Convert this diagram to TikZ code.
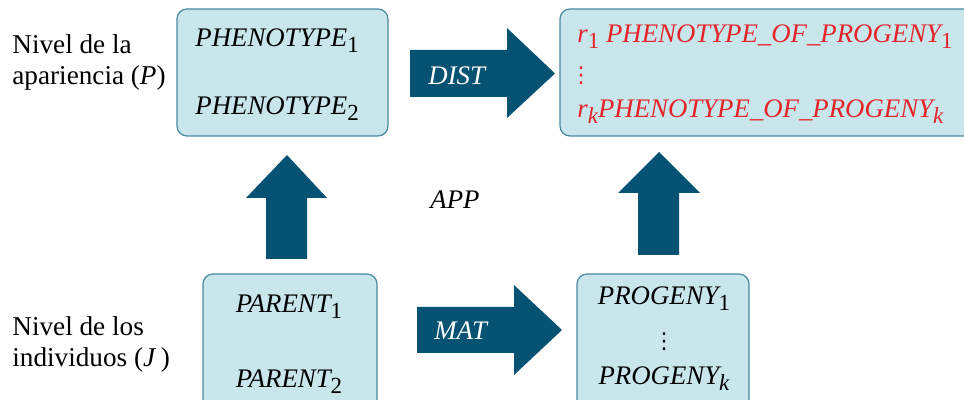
\documentclass[tikz,border=0pt]{standalone}
\usepackage{fontspec}
\setmainfont{Liberation Serif}
\newfontfamily\dotsfont{DejaVu Sans}
\usetikzlibrary{positioning}

\definecolor{boxfill}{RGB}{200,230,236}
\definecolor{boxline}{RGB}{74,137,160}
\definecolor{arrowblue}{RGB}{6,82,114}
\definecolor{resred}{RGB}{230,36,40}

\newcommand{\lowidx}[1]{\raisebox{-3pt}{\fontsize{11.5}{11.5}\selectfont\upshape #1}}

\begin{document}
\begin{tikzpicture}[
    x=0.5pt, y=-0.5pt,
    box/.style={draw=boxline, fill=boxfill, rounded corners=5pt, line width=0.6pt},
    item/.style={font=\fontsize{13.4}{15}\selectfont\itshape, inner sep=0pt},
    vdot/.style={font=\fontsize{11}{11}\dotsfont, inner sep=0pt},
    lvl/.style={font=\fontsize{13.6}{15.5}\selectfont, align=left, inner sep=0pt},
    blockarrow/.style={fill=arrowblue},
    arrlbl/.style={font=\fontsize{13.4}{15}\selectfont\itshape, text=white, inner sep=0pt}
]
\path[use as bounding box, clip] (0,0) rectangle (964,400);

% level labels
\node[lvl, anchor=base west] (plevel) at (12,85) {Nivel de la\\apariencia (\textit{P}\/)};
\node[lvl, anchor=base west] (jlevel) at (12,367) {Nivel de los\\individuos (\textit{J}\,)};

% boxes
\node[box, minimum width=105.5pt, minimum height=63.5pt] (pheno) at (282.5,72.5) {};
\node[box, minimum width=210pt, minimum height=63.5pt] (result) at (770,72.5) {};
\node[box, minimum width=87pt, minimum height=70.5pt] (parent) at (290,344.5) {};
\node[box, minimum width=86pt, minimum height=70.5pt] (progeny) at (663,344.5) {};

% block arrows
\fill[blockarrow] (410,50) -- (507,50) -- (507,28) -- (555,73.5) -- (507,118) -- (507,97) -- (410,97) -- cycle;
\fill[blockarrow] (417,307) -- (514,307) -- (514,285) -- (562,330) -- (514,375) -- (514,353) -- (417,353) -- cycle;
\fill[blockarrow] (266,259) -- (266,198) -- (246,198) -- (287,155) -- (327,198) -- (307,198) -- (307,259) -- cycle;
\fill[blockarrow] (638,255) -- (638,193) -- (618,193) -- (659,152) -- (700,193) -- (679,193) -- (679,255) -- cycle;

% contents
\node[item, anchor=base west] (ph1) at (195,47) {PHENOTYPE\lowidx{1}};
\node[item, anchor=base west] (ph2) at (195,115) {PHENOTYPE\lowidx{2}};

\node[item, text=resred, anchor=base west] (res1) at (577,43) {r\lowidx{1} PHENOTYPE\_OF\_PROGENY\lowidx{1}};
\node[vdot, text=resred] (resdots) at (581,76) {⋮};
\node[item, text=resred, anchor=base west] (resk) at (577,118) {r\lowidx{\itshape k}PHENOTYPE\_OF\_PROGENY\lowidx{\itshape k}};

\node[item, anchor=base] (par1) at (289,313) {PARENT\lowidx{1}};
\node[item, anchor=base] (par2) at (289,388) {PARENT\lowidx{2}};

\node[item, anchor=base] (prog1) at (664,305) {PROGENY\lowidx{1}};
\node[vdot] (progdots) at (664,342) {⋮};
\node[item, anchor=base] (progk) at (664,385) {PROGENY\lowidx{\itshape k}};

% arrow labels
\node[arrlbl, anchor=base west] (dist) at (428,85) {DIST};
\node[arrlbl, anchor=base west] (mat) at (434,340) {MAT};
\node[item] (app) at (455,200) {APP};

\end{tikzpicture}
\end{document}
